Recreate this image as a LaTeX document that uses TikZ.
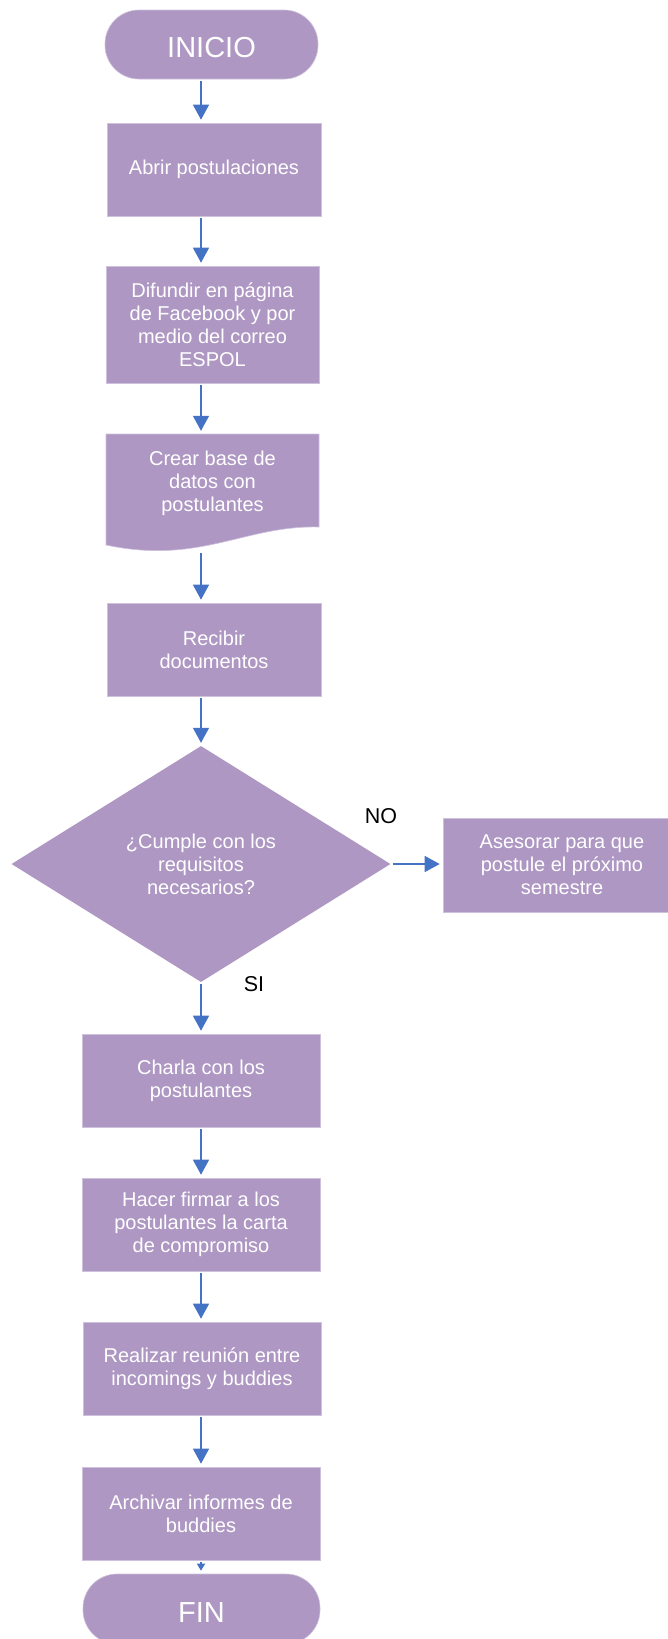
\documentclass[tikz,border=0pt]{standalone}
\usepackage{fontspec}
\setmainfont{Liberation Sans}
\usetikzlibrary{shapes.geometric,arrows.meta}
\definecolor{pur}{HTML}{AE97C3}
\definecolor{arrblue}{HTML}{4472C4}
\begin{document}
\begin{tikzpicture}[x=1pt,y=-1pt,
  box/.style={rectangle, fill=pur, draw=pur!60!white, line width=0.6pt, text=white, align=center, inner sep=0pt, font=\fontsize{20}{23}\selectfont},
  term/.style={box, rounded corners=34pt, font=\fontsize{29}{33}\selectfont, text height=26pt, text depth=0pt, minimum width=213pt, minimum height=69pt},
  plain/.style={rectangle, text=white, align=center, inner sep=0pt, font=\fontsize{20}{23}\selectfont},
  dec/.style={diamond, fill=pur, text=white, align=center, inner sep=0pt, font=\fontsize{20}{23}\selectfont, minimum width=379pt, minimum height=236pt},
  arr/.style={draw=arrblue, line width=1.3pt, -{Triangle[width=16pt,length=15pt]}, shorten <=2pt, shorten >=3pt},
  smallarr/.style={draw=arrblue, line width=1.3pt, -{Triangle[width=8pt,length=7pt]}, shorten <=2pt, shorten >=3pt},
  lbl/.style={text=black, font=\fontsize{21.5}{24}\selectfont, inner sep=0pt}
]
\useasboundingbox (0,0) rectangle (668,1639);
\coordinate (colx) at (201,0);

\node[term] (inicio) at (211.5,44.5) {INICIO};
\node[box, minimum width=214pt, minimum height=93pt] (abrir) at (214,169.5) {Abrir postulaciones};
\node[box, minimum width=213pt, minimum height=117pt] (difundir) at (212.5,324.5) {Difundir en página\\de Facebook y por\\medio del correo\\ESPOL};

% document shape
\path[fill=pur, draw=pur!60!white, line width=0.6pt] (106,434) -- (319,434) -- (319,527)
  .. controls (245,525) and (200,565) .. (106,545) -- cycle;
\node[plain, minimum width=213pt, minimum height=98pt] (crear) at (212.5,483) {Crear base de\\datos con\\postulantes};

\node[box, minimum width=214pt, minimum height=93pt] (recibir) at (214,649.5) {Recibir\\documentos};
\node[dec] (cumple) at (201,864) {¿Cumple con los\\requisitos\\necesarios?};
\node[box, minimum width=238pt, minimum height=94pt] (asesorar) at (562,865) {Asesorar para que\\postule el próximo\\semestre};
\node[box, minimum width=238pt, minimum height=93pt] (charla) at (201,1080.5) {Charla con los\\postulantes};
\node[box, minimum width=238pt, minimum height=93pt] (hacer) at (201,1224.5) {Hacer firmar a los\\postulantes la carta\\de compromiso};
\node[box, minimum width=238pt, minimum height=93pt] (realizar) at (202,1368.5) {Realizar reunión entre\\incomings y buddies};
\node[box, minimum width=238pt, minimum height=93pt] (archivar) at (201,1513.5) {Archivar informes de\\buddies};
\node[term, minimum width=237pt, minimum height=70pt] (fin) at (201.5,1609) {FIN};

\node[lbl] (no) at (381,816) {NO};
\node[lbl] (si) at (254,984) {SI};

\draw[arr] (inicio.south -| colx) -- (abrir.north -| colx);
\draw[arr] (abrir.south -| colx) -- (difundir.north -| colx);
\draw[arr] (difundir.south -| colx) -- (crear.north -| colx);
\draw[arr] (crear.south -| colx) ++(0,19) -- (recibir.north -| colx);
\draw[arr] (recibir.south -| colx) -- (cumple.north);
\draw[arr] (cumple.south) -- (charla.north);
\draw[arr] (cumple.east) -- (cumple.east -| asesorar.west);
\draw[arr] (charla.south) -- (hacer.north);
\draw[arr] (hacer.south -| colx) -- (realizar.north -| colx);
\draw[arr] (realizar.south -| colx) -- (archivar.north -| colx);
\draw[smallarr] (archivar.south -| colx) -- (fin.north -| colx);
\end{tikzpicture}
\end{document}
